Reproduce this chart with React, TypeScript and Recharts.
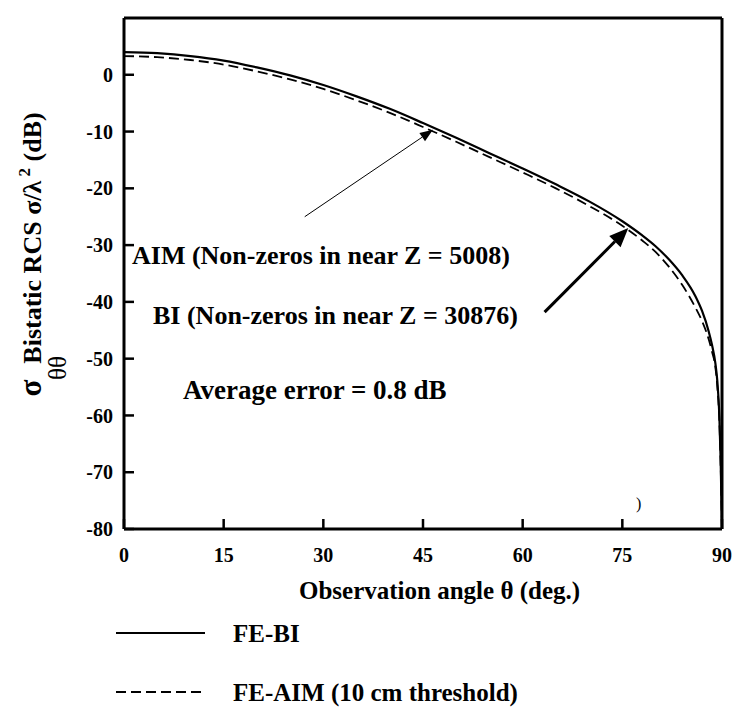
import React from "react";
import { LineChart, Line, XAxis, YAxis, ReferenceLine, Legend, Label } from "recharts";

// observation angle (deg) and bistatic RCS (dB) for the two solvers
const angles = [0, 5, 10, 15, 20, 25, 30, 35, 40, 45, 50, 55, 60, 65, 70, 75, 78, 80, 82, 84, 86, 87, 88, 88.5, 89, 89.3, 89.6, 89.8, 90];
const feBi = [4.0, 3.8, 3.3, 2.5, 1.3, -0.1, -1.8, -3.8, -6.0, -8.5, -11.1, -13.8, -16.5, -19.3, -22.3, -25.8, -28.3, -30.2, -32.5, -35.3, -39.0, -41.6, -45.2, -47.6, -50.8, -54, -60, -68, -80];
const feAim = [3.3, 3.1, 2.6, 1.8, 0.6, -0.8, -2.5, -4.5, -6.7, -9.2, -11.8, -14.5, -17.2, -20.0, -23.1, -26.6, -29.2, -31.2, -33.8, -37.0, -41.0, -43.4, -46.6, -48.8, -51.5, -55, -61, -69, -80];

const xMajor = [0, 15, 30, 45, 60, 75, 90];
const xMinor = [0, 5, 10, 15, 20, 25, 30, 35, 40, 45, 50, 55, 60, 65, 70, 75, 80, 85, 90];
const yMajor = [10, 0, -10, -20, -30, -40, -50, -60, -70, -80];
const yMinor = [10, 5, 0, -5, -10, -15, -20, -25, -30, -35, -40, -45, -50, -55, -60, -65, -70, -75, -80];

const seriesNames = ["FE-BI", "FE-AIM (10 cm threshold)"];

const rows = angles.map((angle, i) => ({ angle, bi: feBi[i], aim: feAim[i] }));

const SERIF = '"Liberation Serif", "Times New Roman", serif';
const tickStyle = { fill: "#000", fontSize: 20, fontWeight: 700, fontFamily: SERIF };
// axes are laid out with (almost) no thickness so they all sit on the frame
const THIN = 0.001;

function arrowShape(width: number, headLen: number, headHalf: number) {
  return (p: any) => {
    const { x1, y1, x2, y2 } = p;
    const ang = Math.atan2(y2 - y1, x2 - x1);
    const bx = x2 - headLen * Math.cos(ang);
    const by = y2 - headLen * Math.sin(ang);
    const nx = -Math.sin(ang) * headHalf;
    const ny = Math.cos(ang) * headHalf;
    return (
      <g>
        <line x1={x1} y1={y1} x2={bx} y2={by} stroke="#000" strokeWidth={width} />
        <polygon points={`${x2},${y2} ${bx + nx},${by + ny} ${bx - nx},${by - ny}`} fill="#000" />
      </g>
    );
  };
}

function YTitle() {
  return (
    <g fontFamily={SERIF} fill="#000">
      <text x={33} y={230} transform="rotate(-90 33 230)" textAnchor="middle" fontSize={26} fontWeight={700}>
        Bistatic RCS σ/λ
        <tspan dy={-11} fontSize={17}> 2</tspan>
        <tspan dy={11}> (dB)</tspan>
      </text>
      <text x={33} y={380} transform="rotate(-90 33 380)" textAnchor="middle" fontSize={31} fontWeight={700}>
        σ
      </text>
      <text x={58} y={360} transform="rotate(-90 58 360)" textAnchor="middle" fontSize={25}>
        θθ
      </text>
    </g>
  );
}

function XTitle() {
  return (
    <text x={291} y={582} dominantBaseline="central" fontFamily={SERIF} fontSize={25} fontWeight={700} fill="#000">
      Observation angle θ (deg.)
    </text>
  );
}

function LegendRows(props: any) {
  const items = [...(props.payload || [])].sort(
    (a: any, b: any) => seriesNames.indexOf(a.value) - seriesNames.indexOf(b.value)
  );
  const ys = [30, 89];
  return (
    <svg width={520} height={110}>
      {items.map((it: any, i: number) => (
        <g key={it.value}>
          <line
            x1={8}
            x2={97}
            y1={ys[i]}
            y2={ys[i]}
            stroke="#000"
            strokeWidth={1.8}
            strokeDasharray={it.payload?.strokeDasharray}
          />
          <text x={125} y={ys[i]} dominantBaseline="central" fontFamily={SERIF} fontSize={25} fontWeight={700}>
            {it.value}
          </text>
        </g>
      ))}
    </svg>
  );
}

const note = (left: number, top: number, size: number): React.CSSProperties => ({
  position: "absolute",
  left,
  top,
  fontFamily: SERIF,
  fontWeight: 700,
  fontSize: size,
  lineHeight: `${size}px`,
  whiteSpace: "nowrap",
  color: "#000",
});

export default function App() {
  return (
    <div style={{ position: "relative", width: 733, height: 703, background: "#fff" }}>
      <LineChart width={733} height={703} data={rows} margin={{ top: 10, right: 19, left: 116, bottom: 182 }}>
        <XAxis xAxisId="xm" dataKey="angle" type="number" domain={[0, 90]} allowDataOverflow ticks={xMinor}
          height={THIN} tick={false} tickSize={-4} axisLine={false} tickLine={{ stroke: "#000", strokeWidth: 2 }} />
        <XAxis xAxisId="x" dataKey="angle" type="number" domain={[0, 90]} allowDataOverflow ticks={xMajor}
          height={THIN} tick={tickStyle} tickSize={-10} tickMargin={29}
          axisLine={{ stroke: "#000", strokeWidth: 3 }} tickLine={{ stroke: "#000", strokeWidth: 2.5 }}>
          <Label content={XTitle} />
        </XAxis>
        <XAxis xAxisId="xtm" orientation="top" dataKey="angle" type="number" domain={[0, 90]} allowDataOverflow ticks={xMinor}
          height={THIN} tick={false} tickSize={-4} axisLine={false} tickLine={{ stroke: "#000", strokeWidth: 2 }} />
        <XAxis xAxisId="xt" orientation="top" dataKey="angle" type="number" domain={[0, 90]} allowDataOverflow ticks={xMajor}
          height={THIN} tick={false} tickSize={-10} axisLine={{ stroke: "#000", strokeWidth: 3 }} tickLine={{ stroke: "#000", strokeWidth: 2.5 }} />

        <YAxis yAxisId="ym" type="number" domain={[-80, 10]} allowDataOverflow ticks={yMinor}
          width={THIN} tick={false} tickSize={-4} axisLine={false} tickLine={{ stroke: "#000", strokeWidth: 2 }} />
        <YAxis yAxisId="y" type="number" domain={[-80, 10]} allowDataOverflow ticks={yMajor}
          width={THIN} tick={tickStyle} tickSize={-10} tickMargin={21}
          axisLine={{ stroke: "#000", strokeWidth: 3 }} tickLine={{ stroke: "#000", strokeWidth: 2.5 }}>
          <Label content={YTitle} />
        </YAxis>
        <YAxis yAxisId="yrm" orientation="right" type="number" domain={[-80, 10]} allowDataOverflow ticks={yMinor}
          width={THIN} tick={false} tickSize={-4} axisLine={false} tickLine={{ stroke: "#000", strokeWidth: 2 }} />
        <YAxis yAxisId="yr" orientation="right" type="number" domain={[-80, 10]} allowDataOverflow ticks={yMajor}
          width={THIN} tick={false} tickSize={-10} axisLine={{ stroke: "#000", strokeWidth: 3 }} tickLine={{ stroke: "#000", strokeWidth: 2.5 }} />

        <Line xAxisId="x" yAxisId="y" name={seriesNames[0]} dataKey="bi" type="monotone" stroke="#000" strokeWidth={2.2}
          dot={false} isAnimationActive={false} />
        <Line xAxisId="x" yAxisId="y" name={seriesNames[1]} dataKey="aim" type="monotone" stroke="#000"
          strokeWidth={1.8} strokeDasharray="10 5" dot={false} isAnimationActive={false} />

        {/* pointers from the annotations to the curves */}
        <ReferenceLine xAxisId="x" yAxisId="y" ifOverflow="visible"
          segment={[{ x: 27.2, y: -25.0 }, { x: 46.5, y: -9.7 }]} shape={arrowShape(1, 13, 5)} />
        <ReferenceLine xAxisId="x" yAxisId="y" ifOverflow="visible"
          segment={[{ x: 63.3, y: -41.8 }, { x: 75.9, y: -27.0 }]} shape={arrowShape(3, 19, 8)} />

        <Legend layout="vertical" align="center" verticalAlign="middle" content={LegendRows}
          wrapperStyle={{ position: "absolute", left: 100, top: 595, width: 520, height: 110 }} />
      </LineChart>

      <div style={note(124, 235, 26)}>AIM (Non-zeros in near Z = 5008)</div>
      <div style={note(145, 295, 26)}>BI (Non-zeros in near Z = 30876)</div>
      <div style={note(175, 369, 27)}>Average error = 0.8 dB</div>
      <div style={{ ...note(628, 488, 16), fontWeight: 400 }}>)</div>
    </div>
  );
}
